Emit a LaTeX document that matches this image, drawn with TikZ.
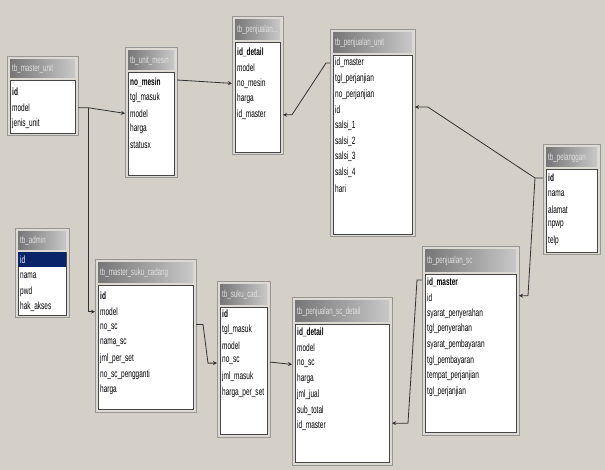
\documentclass[tikz,border=0pt]{standalone}
\usepackage{fontspec}
\setmainfont{Liberation Sans}[FakeStretch=0.62]
\usetikzlibrary{arrows.meta}
\definecolor{bg}{RGB}{212,208,200}
\definecolor{hdrL}{RGB}{118,118,118}
\definecolor{hdrR}{RGB}{200,200,200}
\definecolor{framecol}{RGB}{150,150,150}
\definecolor{bodyline}{RGB}{70,70,70}
\definecolor{titlecol}{RGB}{225,225,225}
\definecolor{conncol}{RGB}{50,50,50}
\definecolor{selblue}{RGB}{10,36,106}
\tikzset{
  tblframe/.style={draw=framecol, fill=bg!80!white, line width=1pt, inner sep=0pt, outer sep=0pt, rectangle},
  tbltitle/.style={text=titlecol, font=\fontsize{10}{11}\selectfont, inner sep=0pt},
  fld/.style={text=black, font=\fontsize{10.5}{11}\selectfont, inner sep=0pt},
  conn/.style={draw=conncol, line width=0.8pt, -{Stealth[length=4pt,width=4pt]}},
}
% #1 name, #2 left, #3 top, #4 right, #5 bottom, #6 header bottom, #7 title
\newcommand\dbtable[7]{%
  \node[tblframe, anchor=north west, minimum width=#4pt-#2pt, minimum height=#5pt-#3pt] (#1) at (#2,#3) {};
  \shade[left color=hdrL, right color=hdrR] ({#2+3},{#3+3}) rectangle ({#4-3},#6);
  \node[tbltitle, anchor=west] (#1-t) at ({#2+5},{(#3+3+#6)/2}) {#7};
  \filldraw[fill=white, draw=bodyline, line width=0.6pt] ({#2+3},{#6+2}) rectangle ({#4-3},{#5-3});
}
% #1 name, #2 left, #3 first row y, #4 rows
\newcommand\dbrows[4]{%
  \foreach \n/\t [count=\i from 0] in {#4}
    \node[fld, anchor=west] (#1-\n) at ({#2+5},{#3+15.7*\i}) {\t};
}
\begin{document}
\begin{tikzpicture}[x=1pt, y=-1pt]
\fill[bg] (0,0) rectangle (605,470);
\useasboundingbox (0,0) rectangle (605,470);

% tb_master_unit
\dbtable{mu}{7}{57}{78}{136}{78}{tb\_master\_unit}
\dbrows{mu}{7}{92}{id/\textbf{id}, model/model, jenis/jenis\_unit}

% tb_unit_mesin
\dbtable{um}{125}{48}{177}{178}{70}{tb\_unit\_mesin}
\dbrows{um}{125}{82}{nomesin/\textbf{no\_mesin}, tgl/tgl\_masuk, model/model, harga/harga, status/statusx}

% tb_penjualan...
\dbtable{pd}{232}{17}{283}{155}{40}{tb\_penjualan...}
\dbrows{pd}{232}{52}{iddetail/\textbf{id\_detail}, model/model, nomesin/no\_mesin, harga/harga, idmaster/id\_master}

% tb_penjualan_unit
\dbtable{pu}{330}{30}{415}{237}{53}{tb\_penjualan\_unit}
\dbrows{pu}{330}{63}{idmaster/id\_master, tgl/tgl\_perjanjian, no/no\_perjanjian, id/id, s1/salsi\_1, s2/salsi\_2, s3/salsi\_3, s4/salsi\_4, hari/hari}

% tb_pelanggan
\dbtable{pl}{543}{145}{600}{255}{167}{tb\_pelanggan}
\dbrows{pl}{543}{178}{id/\textbf{id}, nama/nama, alamat/alamat, npwp/npwp, telp/telp}

% tb_admin
\dbtable{ad}{15}{229}{69}{318}{250}{tb\_admin}
\fill[selblue] (18,252) rectangle (66,267);
\dbrows{ad}{15}{260}{id/\textcolor{white}{id}, nama/nama, pwd/pwd, hak/hak\_akses}

% tb_master_suku_cadang
\dbtable{msc}{95}{260}{196}{412}{283}{tb\_master\_suku\_cadang}
\dbrows{msc}{95}{296}{id/\textbf{id}, model/model, nosc/no\_sc, nama/nama\_sc, jml/jml\_per\_set, peng/no\_sc\_pengganti, harga/harga}

% tb_suku_cad...
\dbtable{sc}{217}{282}{270}{437}{305}{tb\_suku\_cad...}
\dbrows{sc}{217}{314}{id/\textbf{id}, tgl/tgl\_masuk, model/model, nosc/no\_sc, jml/jml\_masuk, harga/harga\_per\_set}

% tb_penjualan_sc_detail
\dbtable{psd}{292}{298}{392}{465}{322}{tb\_penjualan\_sc\_detail}
\dbrows{psd}{292}{332}{iddetail/\textbf{id\_detail}, model/model, nosc/no\_sc, harga/harga, jml/jml\_jual, sub/sub\_total, idmaster/id\_master}

% tb_penjualan_sc
\dbtable{ps}{422}{247}{519}{435}{272}{tb\_penjualan\_sc}
\dbrows{ps}{422}{282}{idmaster/\textbf{id\_master}, id/id, sp/syarat\_penyerahan, tp/tgl\_penyerahan, sb/syarat\_pembayaran, tb/tgl\_pembayaran, tempat/tempat\_perjanjian, tgl/tgl\_perjanjian}

% connectors
\draw[conn] (mu.east |- mu-model) -- ++(10,0) coordinate (k1) -- (um.west |- um-model);
\draw[conn] (k1) |- (msc.west |- msc-model);
\draw[conn] ([yshift=2pt]um.east |- um-nomesin) -- (pd.west |- pd-nomesin);
\draw[conn] (pu.west |- pu-idmaster) -- ++(-4,0) coordinate (k2) -- ([xshift=9pt]pd.east |- pd-idmaster) -- (pd.east |- pd-idmaster);
\draw[conn] (pl.west |- pl-id) -- ++(-8,0) coordinate (k3) -- ([xshift=13pt,yshift=3pt]pu.east |- pu-id) -- ([yshift=3pt]pu.east |- pu-id);
\draw[conn] (k3) -- ([xshift=9pt,yshift=2pt]ps.east |- ps-id) -- ([yshift=2pt]ps.east |- ps-id);
\draw[conn] ([yshift=2pt]ps.west |- ps-idmaster) -- ++(-5,0) coordinate (k4) -- ([xshift=16pt,yshift=3pt]psd.east |- psd-idmaster) -- ([yshift=3pt]psd.east |- psd-idmaster);
\draw[conn] ([yshift=3pt]msc.east |- msc-nosc) -- ++(7,0) coordinate (k5) -- ([xshift=-9pt,yshift=-2pt]sc.west |- sc-nosc) -- ([yshift=-2pt]sc.west |- sc-nosc);
\draw[conn] ([yshift=-1pt]sc.east |- sc-nosc) -- ([yshift=-1pt]psd.west |- psd-nosc);
\end{tikzpicture}
\end{document}
